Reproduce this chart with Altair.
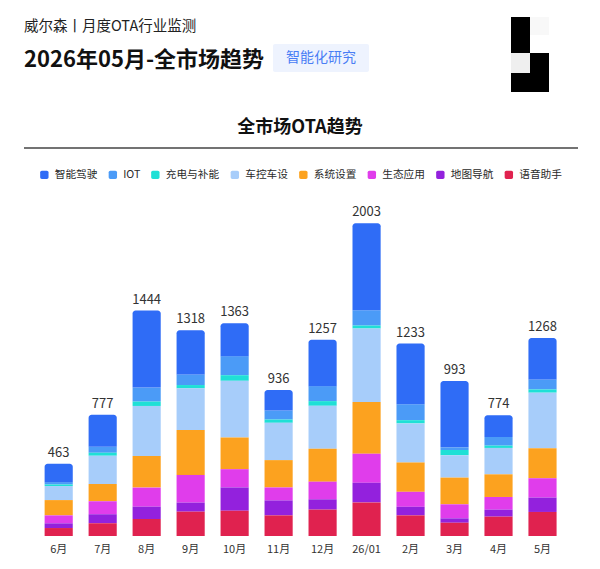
import altair as alt
import pandas as pd

FONT = "Noto Sans CJK SC"

months = ["6月", "7月", "8月", "9月", "10月", "11月", "12月", "26/01", "2月", "3月", "4月", "5月"]
totals = [463, 777, 1444, 1318, 1363, 936, 1257, 2003, 1233, 993, 774, 1268]

series = ["智能驾驶", "IOT", "充电与补能", "车控车设", "系统设置", "生态应用", "地图导航", "语音助手"]
colors = ["#2f6cf6", "#4b9bf7", "#1fe0d6", "#a7cdfa", "#fca21f", "#e03deb", "#9321dd", "#e0224f"]

v_zhineng = [118, 206, 493, 283, 211, 132, 297, 557, 389, 425, 140, 265]
v_iot = [15, 38, 90, 68, 122, 58, 96, 98, 102, 17, 55, 64]
v_chongdian = [10, 19, 28, 21, 36, 21, 30, 19, 21, 34, 15, 21]
v_chekong = [90, 181, 320, 267, 363, 239, 275, 471, 250, 143, 169, 356]
v_xitong = [98, 111, 203, 288, 203, 175, 211, 331, 188, 171, 145, 192]
v_shengtai = [51, 83, 122, 177, 117, 83, 113, 186, 96, 90, 81, 124]
v_ditu = [30, 58, 79, 58, 149, 96, 66, 126, 55, 28, 45, 92]
v_yuyin = [51, 81, 109, 156, 162, 132, 169, 215, 132, 85, 124, 154]

series_values = [v_zhineng, v_iot, v_chongdian, v_chekong, v_xitong, v_shengtai, v_ditu, v_yuyin]

rows = []
for si, (name, vals) in enumerate(zip(series, series_values)):
    for m, v in zip(months, vals):
        rows.append({"month": m, "series": name, "value": v, "order": len(series) - 1 - si})
df = pd.DataFrame(rows)
tot_df = pd.DataFrame({"month": months, "total": totals})
one = pd.DataFrame({"a": [0]})

xscale = alt.Scale(domain=months, range=[28.7, 556.5], paddingInner=0.36, paddingOuter=0.18)
yscale = alt.Scale(domain=[0, 2003], range=[528, 215.3])
cscale = alt.Scale(domain=series, range=colors)

rounded_sq = "M-0.6,-1H0.6A0.4,0.4 0 0 1 1,-0.6V0.6A0.4,0.4 0 0 1 0.6,1H-0.6A0.4,0.4 0 0 1 -1,0.6V-0.6A0.4,0.4 0 0 1 -0.6,-1Z"

base = alt.Chart(df).transform_stack(
    stack="value", groupby=["month"], as_=["y0", "y1"],
    sort=[alt.SortField("order", "ascending")]
)

enc = dict(
    x=alt.X("month:N", scale=xscale, axis=None),
    y=alt.Y("y0:Q", scale=yscale, axis=None),
    y2="y1:Q",
)

bars = base.transform_filter(alt.datum.series != "智能驾驶").mark_bar().encode(
    color=alt.Color("series:N", scale=cscale, legend=alt.Legend(
        title=None, orient="none", legendX=31, legendY=161, direction="horizontal",
        symbolType=rounded_sq, symbolSize=70, symbolStrokeWidth=0, symbolOpacity=1,
        labelFont=FONT, labelFontSize=10.7, labelColor="#2a2a2a", labelOffset=5,
        columnPadding=9.5, padding=0)),
    **enc,
)
top = base.transform_filter(alt.datum.series == "智能驾驶").mark_bar(
    cornerRadiusTopLeft=3, cornerRadiusTopRight=3).encode(
    color=alt.Color("series:N", scale=cscale),
    **enc,
)

tot_text = alt.Chart(tot_df).mark_text(
    font=FONT, fontSize=13, color="#333333", baseline="alphabetic", dy=-7).encode(
    x=alt.X("month:N", scale=xscale, axis=None),
    y=alt.Y("total:Q", scale=yscale, axis=None),
    text="total:Q",
)

xlab = alt.Chart(tot_df).mark_text(
    font=FONT, fontSize=11, color="#333333", baseline="middle").encode(
    x=alt.X("month:N", scale=xscale, axis=None),
    y=alt.value(542),
    text="month:N",
)

def label(txt, x, y, size, weight="normal", color="#222222", align="left"):
    return alt.Chart(one).mark_text(
        text=txt, font=FONT, fontSize=size, fontWeight=weight, color=color,
        align=align, baseline="middle").encode(x=alt.value(x), y=alt.value(y))

def box(x, x2, y, y2, fill, r=0):
    return alt.Chart(one).mark_rect(fill=fill, cornerRadius=r).encode(
        x=alt.value(x), x2=alt.value(x2), y=alt.value(y), y2=alt.value(y2))

deco = [
    label("威尔森丨月度OTA行业监测", 16, 19, 14.5, color="#222222"),
    label("2026年05月-全市场趋势", 16, 52, 22, weight="bold", color="#111111"),
    box(265, 361, 36, 64, "#eef3fe", 2),
    label("智能化研究", 313, 50, 14, color="#4a7ef5", align="center"),
    box(503, 522, 9, 45, "#000000"),
    box(503, 522, 65, 84, "#000000"),
    box(522, 541, 45, 84, "#000000"),
    box(503, 522, 45, 65, "#efefef"),
    box(522, 541, 9, 27, "#f8f8f8"),
    label("全市场OTA趋势", 292, 120, 18, weight="bold", color="#111111", align="center"),
    alt.Chart(one).mark_rule(color="#444444", strokeWidth=1.5).encode(
        x=alt.value(16), x2=alt.value(570), y=alt.value(140)),
]

chart = alt.layer(*deco, bars, top, tot_text, xlab).properties(
    width=580, height=548, padding=0, background="white",
    autosize=alt.AutoSizeParams(type="none")
).configure_view(strokeWidth=0, stroke="transparent")

chart.save("out.html", embed_options={"renderer": "svg", "actions": False})
